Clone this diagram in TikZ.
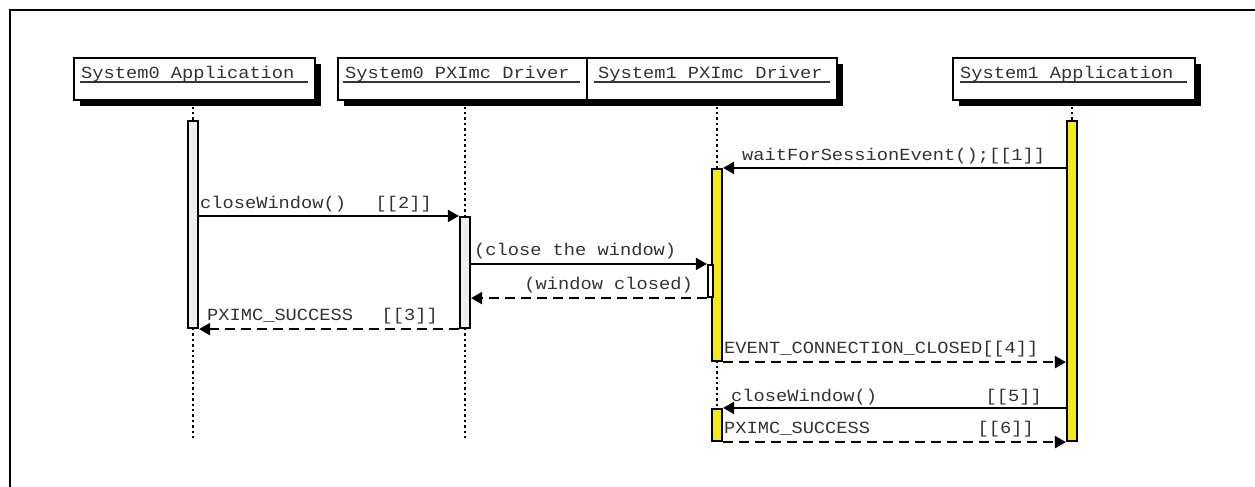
\documentclass[tikz,border=0pt]{standalone}
\usepackage{fontspec}
\newfontfamily\diagfont[FakeStretch=1.1]{Liberation Mono}
\usetikzlibrary{arrows.meta,shadows}
\definecolor{inkgray}{HTML}{333333}
\definecolor{barfill}{HTML}{EEEEEE}
\definecolor{baryellow}{HTML}{F2EA1A}
\tikzset{
  actor/.style={draw=black, line width=2.2pt, fill=white, inner sep=0pt,
    drop shadow={shadow xshift=6pt, shadow yshift=-6pt, fill=black, opacity=1}},
  actorname/.style={anchor=base west, inner sep=0pt, text=inkgray,
    font=\diagfont\fontsize{17}{20}\selectfont},
  nameline/.style={draw=inkgray, line width=1.8pt},
  lifeline/.style={draw=black, line width=2.6pt, dash pattern=on 2.4pt off 3pt},
  bar/.style={draw=black, line width=2.2pt, fill=barfill, inner sep=0pt, minimum width=10pt},
  ybar/.style={bar, fill=baryellow},
  msg/.style={draw=black, line width=2.2pt, -{Triangle[length=11pt,width=12pt]}},
  reply/.style={msg, dash pattern=on 10pt off 6pt},
  lbl/.style={anchor=base west, inner sep=0pt, text=inkgray,
    font=\diagfont\fontsize{17}{20}\selectfont},
  tag/.style={lbl, anchor=base east}
}
\begin{document}
\begin{tikzpicture}[x=1pt, y=-1pt]
  \useasboundingbox (0,0) rectangle (1255,487);
  % outer frame (top and left edges)
  \draw[line width=2.6pt] (10,487) -- (10,10) -- (1255,10);

  % participants
  \node[actor, minimum width=241pt, minimum height=42pt] (b1) at (194.5,79) {};
  \node[actor, minimum width=249pt, minimum height=42pt] (b2) at (462.5,79) {};
  \node[actor, minimum width=250pt, minimum height=42pt] (b3) at (712,79) {};
  \node[actor, minimum width=242pt, minimum height=42pt] (b4) at (1074,79) {};

  \node[actorname] (n1) at (81,78) {System0 Application};
  \node[actorname] (n2) at (345,78) {System0 PXImc Driver};
  \node[actorname] (n3) at (598,78) {System1 PXImc Driver};
  \node[actorname] (n4) at (960,78) {System1 Application};
  \draw[nameline] (80,82) -- (308,82);
  \draw[nameline] (343,82) -- (580,82);
  \draw[nameline] (594,82) -- (830,82);
  \draw[nameline] (960,82) -- (1187,82);

  % lifelines
  \coordinate (e1) at (193,440);
  \coordinate (e2) at (465,440);
  \coordinate (e3) at (717,440);
  \coordinate (e4) at (1072,440);
  \draw[lifeline] (e1 |- b1.south) -- (e1);
  \draw[lifeline] (e2 |- b2.south) -- (e2);
  \draw[lifeline] (e3 |- b3.south) -- (e3);
  \draw[lifeline] (e4 |- b4.south) -- (e4);

  % activation bars
  \node[bar,  minimum height=207pt] (a1)  at (193,224.5) {};
  \node[bar,  minimum height=111pt] (a2)  at (465,272.5) {};
  \node[ybar, minimum height=192pt] (a3)  at (717,265) {};
  \node[bar, fill=white, minimum width=5pt, minimum height=32pt] (a3n) at (710.5,281) {};
  \node[ybar, minimum height=32pt]  (a3b) at (717,425) {};
  \node[ybar, minimum height=320pt] (a4)  at (1072,281) {};

  % messages
  \draw[msg]   (a4.west |- a3.north) -- (a3.north east);
  \draw[msg]   (a1.east |- a2.north) -- (a2.north west);
  \draw[msg]   (a2.east |- a3n.north) -- (a3n.north west);
  \draw[reply] (a3n.south west) -- (a2.east |- a3n.south);
  \draw[reply] (a2.south west) -- (a1.south east);
  \draw[reply] (a3.south east) -- (a4.west |- a3.south);
  \draw[msg]   (a4.west |- a3b.north) -- (a3b.north east);
  \draw[reply] (a3b.south east) -- (a4.south west);

  % message labels
  \node[lbl] (l1) at (742,160) {waitForSessionEvent();[[1]]};
  \node[lbl] (l2) at (200,208) {closeWindow()};
  \node[tag] (t2) at (432,208) {[[2]]};
  \node[lbl] (l3) at (474,255) {(close the window)};
  \node[tag] (l4) at (693,289) {(window closed)};
  \node[lbl] (l5) at (207,320) {PXIMC\_SUCCESS};
  \node[tag] (t5) at (438,320) {[[3]]};
  \node[lbl] (l6) at (724,353) {EVENT\_CONNECTION\_CLOSED[[4]]};
  \node[lbl] (l7) at (731,401) {closeWindow()};
  \node[tag] (t7) at (1042,401) {[[5]]};
  \node[lbl] (l8) at (724,433) {PXIMC\_SUCCESS};
  \node[tag] (t8) at (1034,433) {[[6]]};
\end{tikzpicture}
\end{document}
